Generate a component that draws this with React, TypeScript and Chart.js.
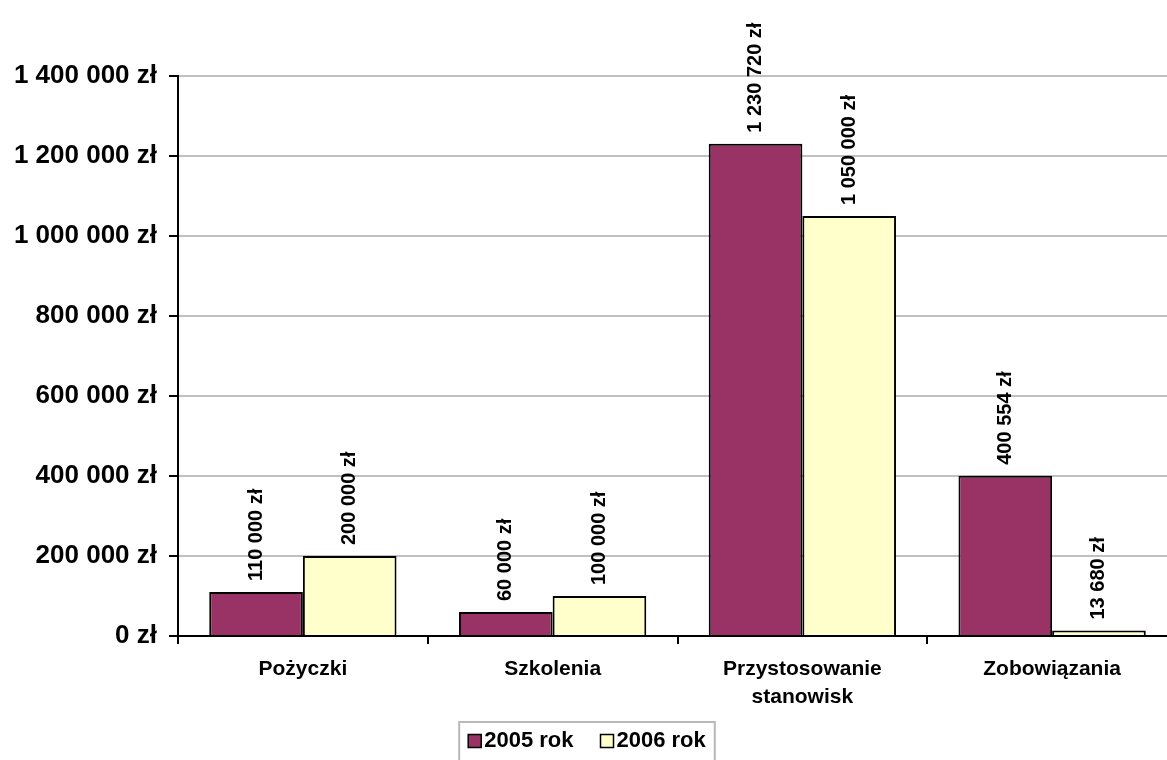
import React, { useEffect, useRef } from "react";
import { Chart, registerables } from "chart.js";

Chart.register(...registerables);

const categories: (string | string[])[] = [
  "Pożyczki",
  "Szkolenia",
  ["Przystosowanie", "stanowisk"],
  "Zobowiązania",
];
const values2005: number[] = [110000, 60000, 1230720, 400554];
const values2006: number[] = [200000, 100000, 1050000, 13680];
const seriesLabels: string[] = ["2005 rok", "2006 rok"];
const seriesColors: string[] = ["#993366", "#FFFFCC"];
const yMin = 0;
const yMax = 1400000;
const yStep = 200000;

const FONT = '"Liberation Sans", Arial, sans-serif';

const fmt = (v: number) =>
  String(Math.round(v)).replace(/\B(?=(\d{3})+(?!\d))/g, " ") + " zł";

const labelsPlugin = {
  id: "barValueLabels",
  afterDatasetsDraw(chart: any) {
    const ctx = chart.ctx;
    ctx.save();
    ctx.fillStyle = "#000";
    ctx.font = `bold 20px ${FONT}`;
    ctx.textAlign = "left";
    ctx.textBaseline = "middle";
    chart.data.datasets.forEach((ds: any, di: number) => {
      const meta = chart.getDatasetMeta(di);
      meta.data.forEach((el: any, i: number) => {
        const v = ds.data[i];
        ctx.save();
        ctx.translate(el.x, el.y - 11);
        ctx.rotate(-Math.PI / 2);
        ctx.fillText(fmt(v), 0, 0);
        ctx.restore();
      });
    });
    ctx.restore();
  },
};

const legendPlugin = {
  id: "boxedLegend",
  afterDraw(chart: any) {
    const ctx = chart.ctx;
    const centerX = 587;
    const boxTop = 722;
    const sq = 13;
    const gapSqText = 3;
    const gapItems = 27;
    const padX = 9;
    ctx.save();
    ctx.font = `bold 22px ${FONT}`;
    const items = chart.data.datasets.map((ds: any) => ({
      label: ds.label,
      color: ds.backgroundColor,
      w: ctx.measureText(ds.label).width,
    }));
    let total = 0;
    items.forEach((it: any, i: number) => {
      total += sq + gapSqText + it.w + (i < items.length - 1 ? gapItems : 0);
    });
    const boxLeft = centerX - total / 2 - padX;
    const boxW = total + padX * 2;
    ctx.strokeStyle = "#B8B8B8";
    ctx.lineWidth = 2;
    ctx.strokeRect(boxLeft, boxTop, boxW, 60);
    let x = centerX - total / 2;
    const cy = 741;
    items.forEach((it: any) => {
      ctx.fillStyle = it.color;
      ctx.fillRect(x, cy - sq / 2, sq, sq);
      ctx.strokeStyle = "#000";
      ctx.lineWidth = 1.5;
      ctx.strokeRect(x, cy - sq / 2, sq, sq);
      ctx.fillStyle = "#000";
      ctx.textAlign = "left";
      ctx.textBaseline = "middle";
      ctx.fillText(it.label, x + sq + gapSqText, cy);
      x += sq + gapSqText + it.w + gapItems;
    });
    ctx.restore();
  },
};

export default function App() {
  const canvasRef = useRef<HTMLCanvasElement | null>(null);

  useEffect(() => {
    if (!canvasRef.current) return;
    const chart = new Chart(canvasRef.current, {
      type: "bar",
      data: {
        labels: categories as any,
        datasets: [
          {
            label: seriesLabels[0],
            data: values2005,
            backgroundColor: seriesColors[0],
            borderColor: "#000",
            borderWidth: 2,
            categoryPercentage: 0.75,
            barPercentage: 1,
          },
          {
            label: seriesLabels[1],
            data: values2006,
            backgroundColor: seriesColors[1],
            borderColor: "#000",
            borderWidth: 2,
            categoryPercentage: 0.75,
            barPercentage: 1,
          },
        ],
      },
      options: {
        responsive: false,
        animation: false,
        layout: { padding: { left: 0, top: 76, right: 23, bottom: 84 } },
        plugins: {
          legend: { display: false },
          tooltip: { enabled: false },
        },
        scales: {
          x: {
            grid: {
              display: true,
              drawOnChartArea: false,
              color: "#000",
              lineWidth: 2,
              tickLength: 8,
              offset: true,
            },
            border: { color: "#000", width: 2 },
            ticks: {
              color: "#000",
              font: { family: FONT, size: 21, weight: "bold", lineHeight: 1.3 },
              padding: 12,
              maxRotation: 0,
              autoSkip: false,
            },
            afterFit: (s: any) => {
              s.height = 100;
            },
          },
          y: {
            min: yMin,
            max: yMax,
            ticks: {
              stepSize: yStep,
              color: "#000",
              font: { family: FONT, size: 26, weight: "bold" },
              padding: 12,
              callback: (v: any) => fmt(Number(v)),
            },
            grid: {
              color: (c: any) => (c.tick && c.tick.value === 0 ? "#000" : "#C0C0C0"),
              lineWidth: 2,
              tickLength: 9,
              tickColor: "#000",
            },
            border: { color: "#000", width: 2 },
            afterFit: (s: any) => {
              s.width = 178;
            },
          },
        },
      } as any,
      plugins: [labelsPlugin, legendPlugin],
    });
    return () => chart.destroy();
  }, []);

  return (
    <div
      style={{
        position: "fixed",
        left: 0,
        top: 0,
        width: "100vw",
        height: "100vh",
        overflow: "hidden",
        background: "#fff",
      }}
    >
      <canvas
        ref={canvasRef}
        width={1200}
        height={820}
        style={{ display: "block", width: 1200, height: 820 }}
      />
    </div>
  );
}
